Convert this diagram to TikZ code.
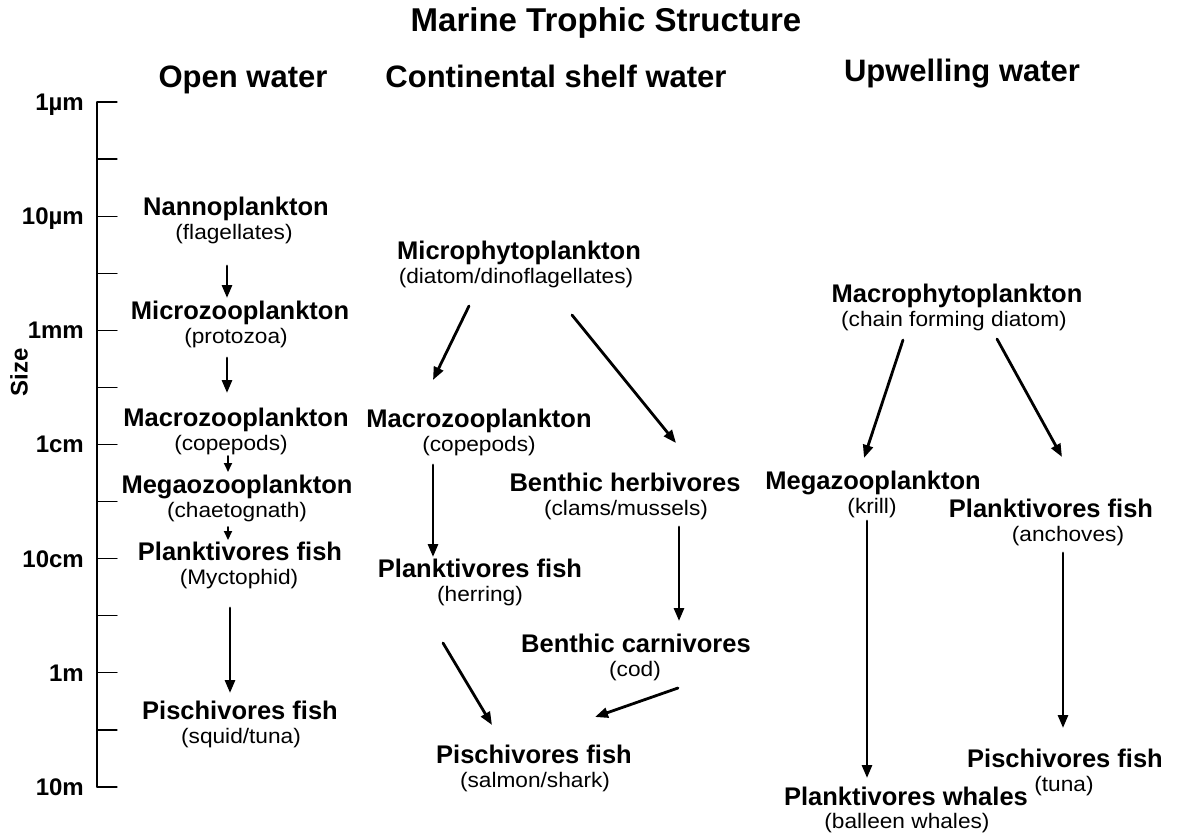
\documentclass[tikz,border=0pt]{standalone}
\usepackage{fontspec}
\setmainfont{Liberation Sans}
\newfontfamily\subfont{Liberation Sans}[FakeStretch=1.08]
\usetikzlibrary{arrows.meta}

\begin{document}
\begin{tikzpicture}[
		x=1pt, y=-1pt,
		line cap=round,
		>={Triangle[length=13pt,width=10pt]},
		title/.style={font=\fontsize{33}{33}\selectfont\bfseries, anchor=base, inner sep=0pt},
		head/.style={font=\fontsize{31}{31}\selectfont\bfseries, anchor=base, inner sep=0pt},
		lab/.style={font=\fontsize{25.5}{25.5}\selectfont\bfseries, anchor=base, inner sep=0pt},
		sublab/.style={font=\subfont\fontsize{21}{21}\selectfont, anchor=base, inner sep=0pt},
		ticklab/.style={font=\fontsize{24}{24}\selectfont\bfseries, anchor=base east, inner sep=0pt},
		axis/.style={line width=1.3pt},
		arr/.style={->, line width=2.8pt},
		smallarr/.style={-{Triangle[length=9pt,width=8pt]}, line width=2pt}
	]
	
	\useasboundingbox (0,0) rectangle (1178,833);
	
	% Parameters
	\def\ax{97}    % x of the size axis
	\def\ay{102}   % y of the top tick
	\def\dy{57.08} % tick spacing
	
	% Titles
	\node[title] (title) at (606,31) {Marine Trophic Structure};
	\node[head] (open) at (243,87) {Open water};
	\node[head] (shelf) at (556,87) {Continental shelf water};
	\node[head] (upw) at (962,81) {Upwelling water};
	
	% Size axis
	\draw[axis] (\ax,\ay) -- (\ax,\ay+12*\dy);
	\foreach \i in {0,...,12} {
		\draw[axis] (\ax,\ay+\i*\dy) -- (\ax+20,\ay+\i*\dy);
	}
	\foreach \i/\t in {0/1µm,2/10µm,4/1mm,6/1cm,8/10cm,10/1m,12/10m} {
		\node[ticklab] (tick\i) at (84,\ay+\i*\dy+8.5) {\t};
	}
	\node[ticklab, anchor=center, rotate=90] (size) at (19,372) {Size};
	
	% Open water
	\node[lab] (nano) at (236,215) {Nannoplankton};
	\node[sublab] (nano-s) at (234,239) {(flagellates)};
	\node[lab] (microz) at (240,319) {Microzooplankton};
	\node[sublab] (microz-s) at (236,343) {(protozoa)};
	\node[lab] (macroz) at (236,426) {Macrozooplankton};
	\node[sublab] (macroz-s) at (231,450) {(copepods)};
	\node[lab] (megaoz) at (237,493) {Megaozooplankton};
	\node[sublab] (megaoz-s) at (237,517) {(chaetognath)};
	\node[lab] (plankm) at (240,560) {Planktivores fish};
	\node[sublab] (plankm-s) at (239,584) {(Myctophid)};
	\node[lab] (pischo) at (240,719) {Pischivores fish};
	\node[sublab] (pischo-s) at (241,743) {(squid/tuna)};
	
	\draw[arr] ([shift={(-7,27)}]nano-s.base) -- ([shift={(-13,-21)}]microz.base);
	\draw[arr] ([shift={(-9,15)}]microz-s.base) -- ([shift={(-9,-33)}]macroz.base);
	\draw[smallarr] ([shift={(-3,6)}]macroz-s.base) -- ([shift={(-9,-21)}]megaoz.base);
	\draw[smallarr] ([shift={(-9,10)}]megaoz-s.base) -- ([shift={(-12,-20)}]plankm.base);
	\draw[arr] ([shift={(-9,24)}]plankm-s.base) -- ([shift={(-10,-26)}]pischo.base);
	
	% Continental shelf water
	\node[lab] (microp) at (519,259) {Microphytoplankton};
	\node[sublab] (microp-s) at (516,283) {(diatom/dinoflagellates)};
	\node[lab] (macroz2) at (479,427) {Macrozooplankton};
	\node[sublab] (macroz2-s) at (479,451) {(copepods)};
	\node[lab] (benthh) at (625,491) {Benthic herbivores};
	\node[sublab] (benthh-s) at (626,515) {(clams/mussels)};
	\node[lab] (plankh) at (480,577) {Planktivores fish};
	\node[sublab] (plankh-s) at (480,601) {(herring)};
	\node[lab] (benthc) at (636,652) {Benthic carnivores};
	\node[sublab] (benthc-s) at (635,676) {(cod)};
	\node[lab] (pischs) at (534,763) {Pischivores fish};
	\node[sublab] (pischs-s) at (535,787) {(salmon/shark)};
	
	\draw[arr] ([shift={(-47,23)}]microp-s.base) -- ([shift={(-46,-47)}]macroz2.base);
	\draw[arr] ([shift={(56,32)}]microp-s.base) -- ([shift={(51,-48)}]benthh.base);
	\draw[arr] ([shift={(-46,14)}]macroz2-s.base) -- ([shift={(-47,-20)}]plankh.base);
	\draw[arr] ([shift={(53,12)}]benthh-s.base) -- ([shift={(43,-31)}]benthc.base);
	\draw[arr] ([shift={(-37,42)}]plankh-s.base) -- ([shift={(-42,-38)}]pischs.base);
	\draw[arr] ([shift={(43,12)}]benthc-s.base) -- ([shift={(61,-46)}]pischs.base);
	
	% Upwelling water
	\node[lab] (macrop) at (957,302) {Macrophytoplankton};
	\node[sublab] (macrop-s) at (954,326) {(chain forming diatom)};
	\node[lab] (megaz) at (873,489) {Megazooplankton};
	\node[sublab] (megaz-s) at (872,513) {(krill)};
	\node[lab] (planka) at (1051,517) {Planktivores fish};
	\node[sublab] (planka-s) at (1068,541) {(anchoves)};
	\node[lab] (whales) at (906,805) {Planktivores whales};
	\node[sublab] (whales-s) at (907,828) {(balleen whales)};
	\node[lab] (pischt) at (1065,767) {Pischivores fish};
	\node[sublab] (pischt-s) at (1064,791) {(tuna)};
	
	\draw[arr] ([shift={(-51,14)}]macrop-s.base) -- ([shift={(-9,-31)}]megaz.base);
	\draw[arr] ([shift={(43,13)}]macrop-s.base) -- ([shift={(11,-60)}]planka.base);
	\draw[arr] ([shift={(-5,8)}]megaz-s.base) -- ([shift={(-39,-27)}]whales.base);
	\draw[arr] ([shift={(-5,12)}]planka-s.base) -- ([shift={(-2,-39)}]pischt.base);
	
\end{tikzpicture}
\end{document}
